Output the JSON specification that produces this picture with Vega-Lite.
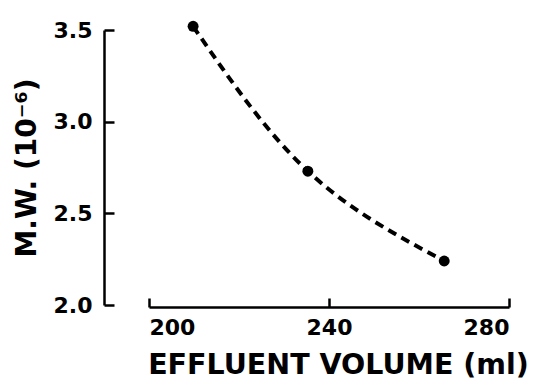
{
  "$schema": "https://vega.github.io/schema/vega-lite/v6.json",
  "autosize": "none",
  "width": 360,
  "height": 275,
  "padding": {"left": 149, "top": 30, "right": 26, "bottom": 75},
  "background": "white",
  "data": {"values": [
    {"volume": 209.8, "mw": 3.52},
    {"volume": 235.3, "mw": 2.73},
    {"volume": 265.6, "mw": 2.24}
  ]},
  "encoding": {
    "x": {"field": "volume", "type": "quantitative",
      "scale": {"domain": [200, 280], "nice": false, "zero": false},
      "axis": {"title": "EFFLUENT VOLUME (ml)", "values": [200, 240, 280], "offset": 2,
        "grid": false, "domainColor": "black", "domainWidth": 2.5, "tickColor": "black", "tickWidth": 2.5, "tickSize": -9,
        "labelFont": "DejaVu Sans", "labelFontWeight": "bold", "labelFontSize": 22, "labelColor": "black", "labelPadding": 19,
        "titleFont": "DejaVu Sans", "titleFontWeight": "bold", "titleFontSize": 28.5, "titleColor": "black", "titlePadding": 12, "titleX": 189}},
    "y": {"field": "mw", "type": "quantitative",
      "scale": {"domain": [2.0, 3.5], "nice": false, "zero": false},
      "axis": {"title": "M.W. (10⁻⁶)", "values": [2.0, 2.5, 3.0, 3.5], "format": ".1f", "offset": 45,
        "grid": false, "domainColor": "black", "domainWidth": 2.5, "tickColor": "black", "tickWidth": 2.5, "tickSize": -10,
        "labelFont": "DejaVu Sans", "labelFontWeight": "bold", "labelFontSize": 22, "labelColor": "black", "labelPadding": 22,
        "titleFont": "DejaVu Sans", "titleFontWeight": "bold", "titleFontSize": 28, "titleColor": "black", "titlePadding": 12}}
  },
  "layer": [
    {"mark": {"type": "line", "interpolate": "natural", "color": "black", "strokeWidth": 4, "strokeDash": [9, 6], "clip": false}},
    {"mark": {"type": "point", "filled": true, "color": "black", "size": 120, "opacity": 1, "clip": false}}
  ],
  "config": {"view": {"stroke": null}}
}
